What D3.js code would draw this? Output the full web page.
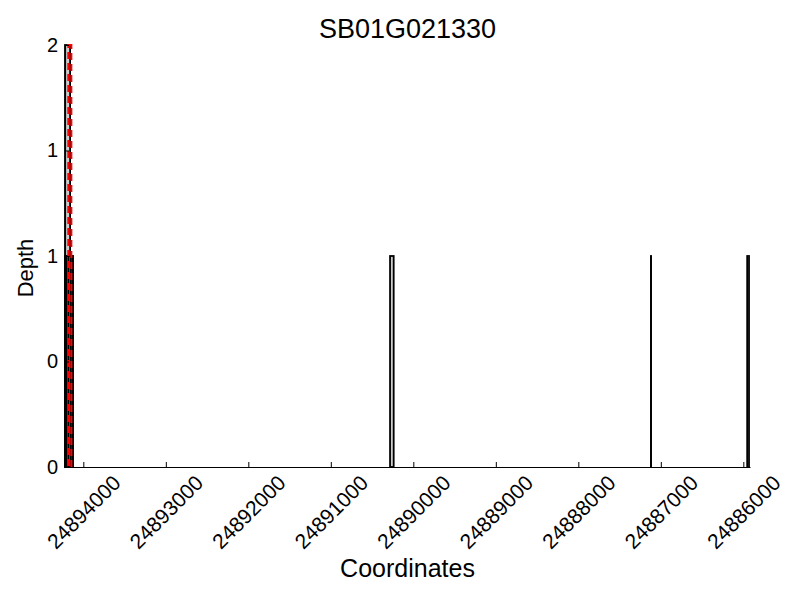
<!DOCTYPE html>
<html>
<head>
<meta charset="utf-8">
<script src="https://cdn.jsdelivr.net/npm/d3@7"></script>
<style>
  body { margin: 0; background: #fff; }
  text { font-family: "Liberation Sans", Arial, sans-serif; }
</style>
</head>
<body>
<div id="chart"></div>
<script>
// data: coverage reads as [start, end, depth] (coordinates, reverse strand)
var gene_name = "SB01G021330";
var x_range = [24894222, 24885919];
var x_ticks = [24894000, 24893000, 24892000, 24891000, 24890000, 24889000, 24888000, 24887000, 24886000];
var y_ticks = [0, 0.5, 1, 1.5, 2];
var depth_reads = [
	[24894222, 24894160, 2],
	[24894222, 24894125, 1],
	[24894215, 24894178, 1],
	[24894205, 24894182, 1],
	[24894150, 24894128, 1],
	[24890282, 24890238, 1],
	[24887120, 24887118, 1],
	[24885953, 24885931, 1]
];
var dashed_reads = [
	[24894182, 24894145, 2]
];

function draw(divid){
	var margin = {top: 45, right: 50, bottom: 133, left: 65},
		width = 800 - margin.left - margin.right,
		height = 600 - margin.top - margin.bottom;

	var svg = d3.select(divid).append("svg")
		.attr("width", 800)
		.attr("height", 600)
	  .append("g")
		.attr("transform", "translate(" + margin.left + "," + margin.top + ")");

	var x = d3.scaleLinear().domain(x_range).range([0, width]);
	var y = d3.scaleLinear().domain([0, 2]).range([height, 0]);

	// depth bars
	svg.selectAll(".depth")
		.data(depth_reads)
		.enter()
		.append("rect")
		.attr("x", function(d) { return x(d[0]); })
		.attr("width", function(d) { return x(d[1]) - x(d[0]); })
		.attr("y", function(d) { return y(d[2]); })
		.attr("height", function(d) { return y(0) - y(d[2]); })
		.attr("fill", "#cccccc")
		.style("stroke", "black")
		.style("stroke-width", 1.8);

	// red dashed
	svg.selectAll(".dashed")
		.data(dashed_reads)
		.enter()
		.append("rect")
		.attr("x", function(d) { return x(d[0]); })
		.attr("width", function(d) { return x(d[1]) - x(d[0]); })
		.attr("y", function(d) { return y(d[2]); })
		.attr("height", function(d) { return y(0) - y(d[2]); })
		.attr("fill", "none")
		.style("stroke", "red")
		.style("stroke-width", 2)
		.attr("stroke-dasharray", "7,4");

	// x axis
	var xg = svg.append("g")
		.attr("transform", "translate(0," + height + ")")
		.call(d3.axisBottom(x).tickValues(x_ticks).tickSizeInner(-5).tickSizeOuter(0).tickFormat(d3.format("d")));
	xg.select(".domain").style("stroke", "black").style("stroke-width", 1.2);
	xg.selectAll(".tick text")
		.attr("font-size", "21px")
		.attr("fill", "black")
		.attr("text-anchor", "middle")
		.attr("dy", "0.35em")
		.attr("y", 45)
		.attr("transform", "rotate(-45,0,45)");

	// y axis
	var yg = svg.append("g")
		.call(d3.axisLeft(y).tickValues(y_ticks).tickSizeInner(-4).tickSizeOuter(0)
			.tickFormat(function(d) { return Math.floor(d); }));
	yg.select(".domain").style("stroke", "black").style("stroke-width", 1.2);
	yg.selectAll("text")
		.attr("font-size", "20px")
		.attr("fill", "black")
		.attr("x", -7);

	// title and labels
	svg.append("text")
		.attr("x", width / 2)
		.attr("y", -7)
		.attr("text-anchor", "middle")
		.attr("font-size", "27px")
		.text(gene_name);

	svg.append("text")
		.attr("x", width / 2)
		.attr("y", height + 110)
		.attr("text-anchor", "middle")
		.attr("font-size", "25px")
		.text("Coordinates");

	svg.append("text")
		.attr("transform", "translate(-32," + (height / 2 + 12) + ") rotate(-90)")
		.attr("text-anchor", "middle")
		.attr("font-size", "22px")
		.text("Depth");
}

draw("#chart");
</script>
</body>
</html>
